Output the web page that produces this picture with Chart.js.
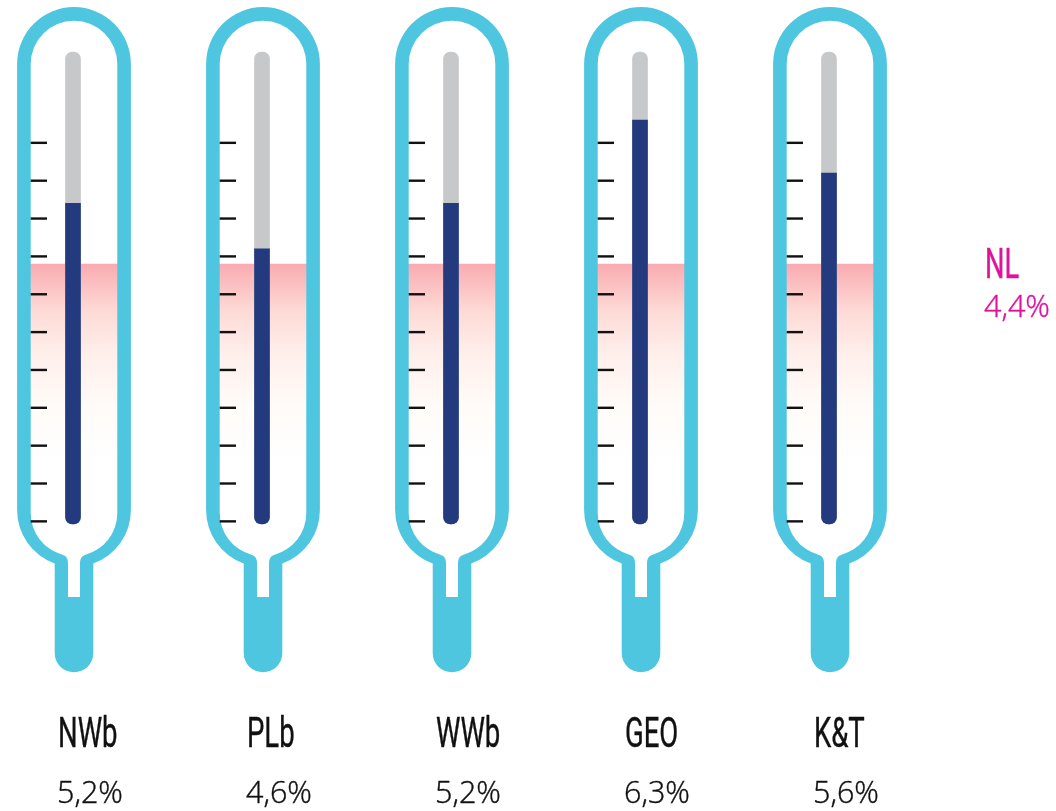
<!DOCTYPE html>
<html>
<head>
<meta charset="utf-8">
<title>Thermometers</title>
<script src="https://cdn.jsdelivr.net/npm/chart.js@4"></script>
<style>
    html, body { margin: 0; padding: 0; background: #ffffff; overflow: hidden; }
    canvas { display: block; }
</style>
</head>
<body>
<canvas id="thermoChart" width="1056" height="811"></canvas>
<script>
const categories = ['NWb', 'PLb', 'WWb', 'GEO', 'K&T'];
const values = [5.2, 4.6, 5.2, 6.3, 5.6];
const valueLabels = ['5,2%', '4,6%', '5,2%', '6,3%', '5,6%'];
const nlLabel = 'NL';
const nlValue = 4.4;
const nlValueLabel = '4,4%';
const tickValues = [1, 1.5, 2, 2.5, 3, 3.5, 4, 4.5, 5, 5.5, 6];
const tubeBottom = 0.965;
const tubeTop = 7.2;

const CYAN = '#4FC6E0';
const PINK = '#E0129A';

function pinkFill(context) {
    const chart = context.chart;
    if (!chart.chartArea) {
        return '#F9AFB3';
    }
    const y = chart.scales.y;
    const gradient = chart.ctx.createLinearGradient(0, y.getPixelForValue(nlValue), 0, y.getPixelForValue(tubeBottom));
    gradient.addColorStop(0, '#F9ABB0');
    gradient.addColorStop(0.18, '#FDDAD6');
    gradient.addColorStop(0.35, '#FFEFEB');
    gradient.addColorStop(0.54, '#FFFBF8');
    gradient.addColorStop(0.75, '#FFFFFF');
    return gradient;
}

function thermoPath(ctx, cx) {
    // outer outline
    const outerR = 56.9;
    const outerA = Math.asin(19.3 / outerR);
    ctx.moveTo(cx - outerR, 64);
    ctx.arc(cx, 64, outerR, Math.PI, 0);
    ctx.lineTo(cx + outerR, 510);
    ctx.arc(cx, 510, outerR, 0, Math.PI / 2 - outerA);
    ctx.lineTo(cx + 19.3, 653);
    ctx.arc(cx, 653, 19.3, 0, Math.PI);
    ctx.lineTo(cx - 19.3, 510 + outerR * Math.cos(outerA));
    ctx.arc(cx, 510, outerR, Math.PI / 2 + outerA, Math.PI);
    ctx.closePath();

    // inner white part with the neck
    const innerR = 43.3;
    const innerA = Math.asin(11 / innerR);
    const shoulderY = 513 + innerR * Math.cos(innerA);
    ctx.moveTo(cx - innerR, 64);
    ctx.arc(cx, 64, innerR, Math.PI, 0);
    ctx.lineTo(cx + innerR, 513);
    ctx.arc(cx, 513, innerR, 0, Math.PI / 2 - innerA);
    ctx.quadraticCurveTo(cx + 6, shoulderY + 1.5, cx + 6, shoulderY + 8);
    ctx.lineTo(cx + 6, 597);
    ctx.lineTo(cx - 6, 597);
    ctx.lineTo(cx - 6, shoulderY + 8);
    ctx.quadraticCurveTo(cx - 6, shoulderY + 1.5, cx - 11, shoulderY);
    ctx.arc(cx, 513, innerR, Math.PI / 2 + innerA, Math.PI);
    ctx.closePath();
}

function squeezedText(ctx, text, x, y, scaleX) {
    ctx.save();
    ctx.translate(x, y);
    ctx.scale(scaleX, 1);
    ctx.fillText(text, 0, 0);
    ctx.strokeText(text, 0, 0);
    ctx.restore();
}

const thermoPlugin = {
    id: 'thermo',
    afterDatasetsDraw: function (chart) {
        const ctx = chart.ctx;
        const x = chart.scales.x;
        const y = chart.scales.y;

        ctx.save();
        categories.forEach(function (cat, i) {
            const cx = x.getPixelForValue(i) + 1;

            ctx.beginPath();
            thermoPath(ctx, cx);
            ctx.fillStyle = CYAN;
            ctx.fill('evenodd');

            ctx.strokeStyle = '#111111';
            ctx.lineWidth = 2.4;
            tickValues.forEach(function (t) {
                const ty = y.getPixelForValue(t);
                ctx.beginPath();
                ctx.moveTo(cx - 43.3, ty);
                ctx.lineTo(cx - 27, ty);
                ctx.stroke();
            });
        });

        ctx.textAlign = 'left';
        ctx.textBaseline = 'alphabetic';
        ctx.lineWidth = 0.4;
        categories.forEach(function (cat, i) {
            const lx = x.getPixelForValue(i) - 15;
            ctx.fillStyle = '#111111';
            ctx.strokeStyle = '#111111';
            ctx.font = '42px "Liberation Sans Narrow", Roboto, sans-serif';
            squeezedText(ctx, cat, lx, 747, 0.655);
            ctx.font = '300 30.5px "Open Sans", sans-serif';
            ctx.fillText(valueLabels[i], lx - 1, 803);
            ctx.strokeText(valueLabels[i], lx - 1, 803);
        });

        ctx.fillStyle = PINK;
        ctx.strokeStyle = PINK;
        ctx.font = '42px "Liberation Sans Narrow", Roboto, sans-serif';
        squeezedText(ctx, nlLabel, 985, 278, 0.65);
        ctx.font = '300 30.5px "Open Sans", sans-serif';
        ctx.fillText(nlValueLabel, 984, 317);
        ctx.strokeText(nlValueLabel, 984, 317);
        ctx.restore();
    }
};

const chartData = {
    datasets: [
        {
            label: 'Waarde',
            data: categories.map(function (c, i) { return { x: i, y: [tubeBottom, values[i]] }; }),
            backgroundColor: '#233A7E',
            barThickness: 15,
            borderSkipped: false,
            borderRadius: { bottomLeft: 7, bottomRight: 7 },
            order: 1
        },
        {
            label: 'Buis',
            data: categories.map(function (c, i) { return { x: i, y: [tubeBottom, tubeTop] }; }),
            backgroundColor: '#C6C8CA',
            barThickness: 15,
            borderSkipped: false,
            borderRadius: 7,
            order: 2
        },
        {
            label: 'NL',
            data: categories.map(function (c, i) { return { x: i, y: [tubeBottom, nlValue] }; }),
            backgroundColor: pinkFill,
            barThickness: 92,
            order: 3
        }
    ]
};

new Chart(document.getElementById('thermoChart'), {
    type: 'bar',
    data: chartData,
    plugins: [thermoPlugin],
    options: {
        responsive: false,
        animation: false,
        layout: { padding: 0 },
        datasets: { bar: { grouped: false } },
        plugins: {
            legend: { display: false },
            tooltip: { enabled: false }
        },
        scales: {
            x: { type: 'linear', display: false, offset: false, min: -73 / 189, max: 983 / 189 },
            y: { display: false, min: -2.826, max: 7.887 }
        }
    }
});
</script>
</body>
</html>
